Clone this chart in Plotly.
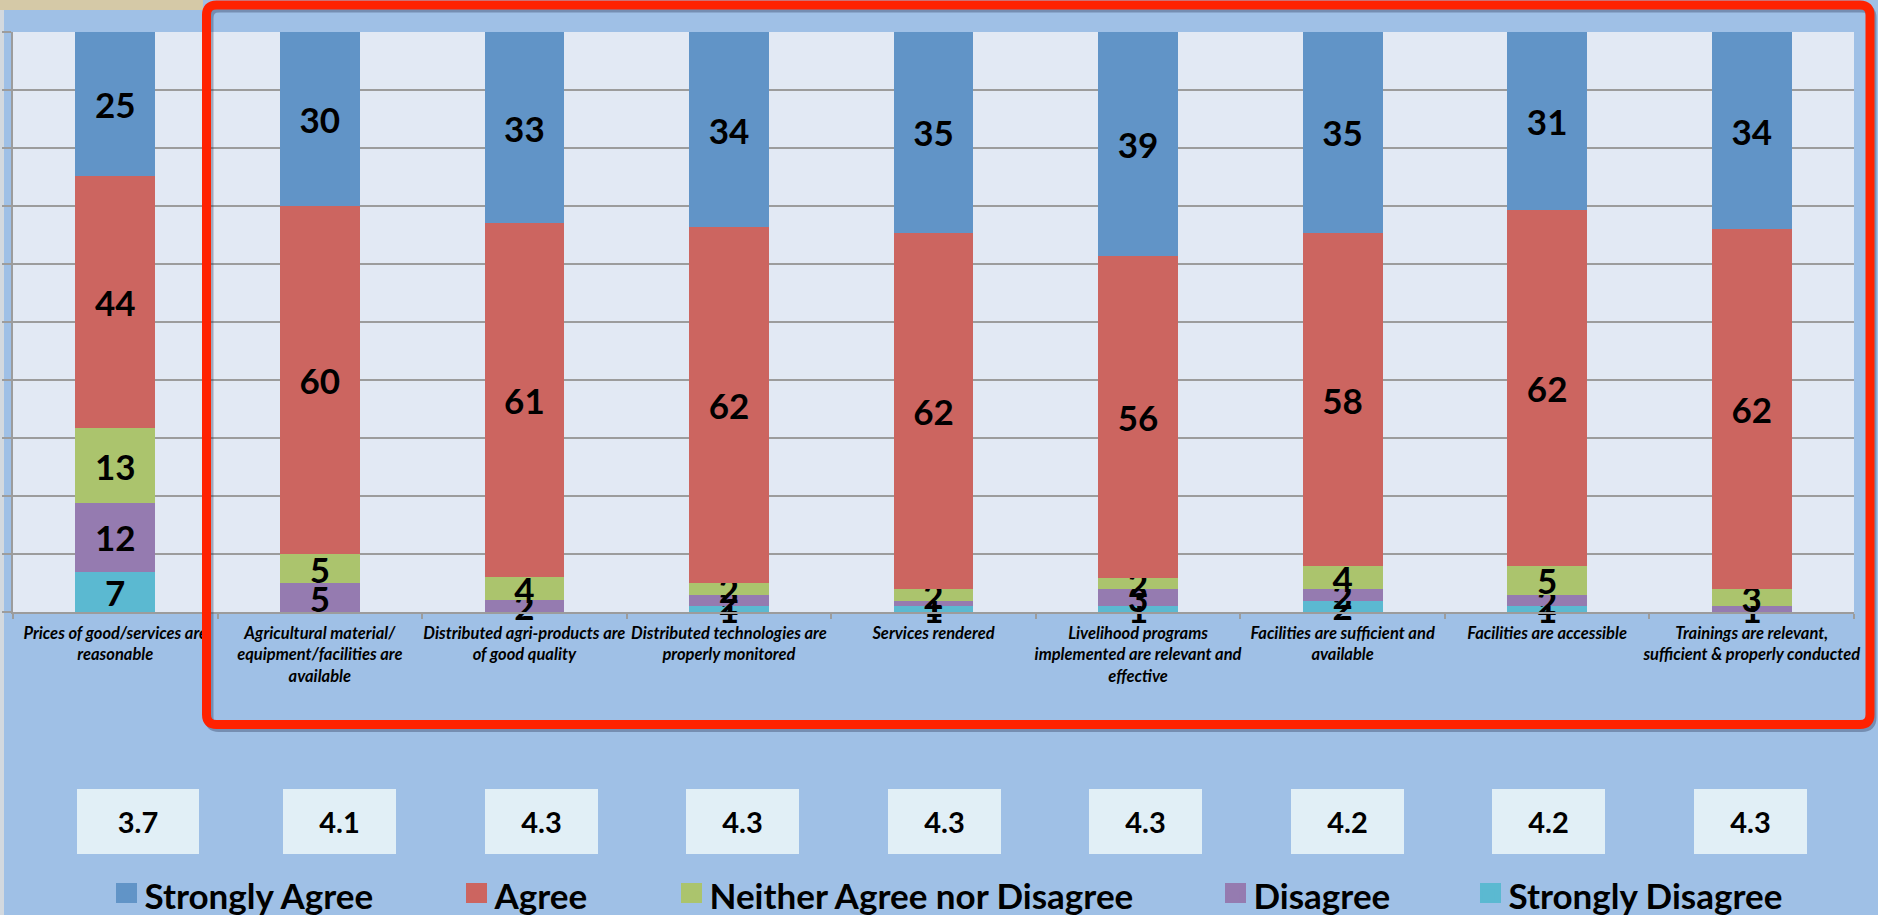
import plotly.graph_objects as go

# ---------------- data ----------------
categories = [
    "Prices of good/services are<br>reasonable",
    "Agricultural material/<br>equipment/facilities are<br>available",
    "Distributed agri-products are<br>of good quality",
    "Distributed technologies are<br>properly monitored",
    "Services rendered",
    "Livelihood programs<br>implemented are relevant and<br>effective",
    "Facilities are sufficient and<br>available",
    "Facilities are accessible",
    "Trainings are relevant,<br>sufficient & properly conducted",
]
strongly_agree = [25, 30, 33, 34, 35, 39, 35, 31, 34]
agree = [44, 60, 61, 62, 62, 56, 58, 62, 62]
neither = [13, 5, 4, 2, 2, 2, 4, 5, 3]
disagree = [12, 5, 2, 2, 1, 3, 2, 2, 1]
strongly_disagree = [7, 0, 0, 1, 1, 1, 2, 1, 0]
mean_scores = [3.7, 4.1, 4.3, 4.3, 4.3, 4.3, 4.2, 4.2, 4.3]

series_names = ["Strongly Agree", "Agree", "Neither Agree nor Disagree",
                "Disagree", "Strongly Disagree"]
series_values = [strongly_agree, agree, neither, disagree, strongly_disagree]
series_colors = ["#6194c7", "#cc6560", "#abc46d", "#957bb0", "#5bb9d1"]

# ---------------- geometry helpers ----------------
W, H = 1878, 915
PL, PR, PT, PB = 13, 1854, 32, 612
PW, PH = PR - PL, PB - PT


def X(px):
    return (px - PL) / PW


def Y(py):
    return (PB - py) / PH


FONT = "Lato"

fig = go.Figure()

# stack bottom -> top : SD, D, N, A, SA
legend_ids = ["legend", "legend2", "legend3", "legend4", "legend5"]
for i in reversed(range(len(series_names))):
    vals = series_values[i]
    fig.add_trace(go.Bar(
        x=categories,
        y=vals,
        name=series_names[i],
        marker=dict(color=series_colors[i], line=dict(width=0)),
        text=[str(v) if v else "" for v in vals],
        textposition="inside",
        insidetextanchor="middle",
        constraintext="none",
        textangle=0,
        textfont=dict(family=FONT, size=35, color="black", weight="bold"),
        cliponaxis=False,
        legend=legend_ids[i],
        hoverinfo="skip",
    ))

# ---------------- layout ----------------
legend_square_centers = [126.5, 476.5, 691.5, 1235.5, 1490.5]
legend_cy = 896
leg_common = dict(
    orientation="h", xanchor="left", yanchor="middle",
    bgcolor="rgba(0,0,0,0)", borderwidth=0,
    font=dict(family=FONT, size=35, color="black", weight="bold"),
)
layout_legends = {}
for lid, cx in zip(legend_ids, legend_square_centers):
    layout_legends[lid] = dict(leg_common, x=X(cx - 22), y=Y(legend_cy))

fig.update_layout(
    width=W, height=H, autosize=False,
    margin=dict(l=PL, r=W - PR, t=PT, b=H - PB, pad=0, autoexpand=False),
    paper_bgcolor="#9fc0e6",
    plot_bgcolor="#e2e9f4",
    barmode="stack",
    barnorm="percent",
    bargap=0.61,
    showlegend=True,
    font=dict(family=FONT, color="black"),
    xaxis=dict(
        type="category",
        showgrid=False,
        showline=True, linecolor="#9c9c9c", linewidth=2,
        ticks="outside", tickson="boundaries", ticklen=5, tickcolor="#9c9c9c",
        tickwidth=2,
        tickfont=dict(family=FONT, size=16.5, color="black", weight="bold",
                      style="italic"),
        ticklabelstandoff=5,
        tickangle=0,
        automargin=False,
        fixedrange=True,
    ),
    yaxis=dict(
        range=[0, 100], dtick=10,
        showgrid=True, gridcolor="#9c9c9c", gridwidth=2,
        zeroline=False,
        showline=True, linecolor="#9c9c9c", linewidth=2,
        ticks="outside", ticklen=9, tickcolor="#9c9c9c", tickwidth=2,
        showticklabels=False,
        automargin=False,
        fixedrange=True,
    ),
    **layout_legends,
)

shapes = []
# left textured edge and top tan band (slide background peeking through)
shapes.append(dict(type="rect", xref="paper", yref="paper",
                   x0=X(0), x1=X(4), y0=Y(H), y1=Y(0),
                   fillcolor="#d3d9df", line=dict(width=0), layer="below"))
shapes.append(dict(type="rect", xref="paper", yref="paper",
                   x0=X(0), x1=X(203), y0=Y(10), y1=Y(0),
                   fillcolor="#d5c9a7", line=dict(width=0), layer="below"))


def rounded_path(l, t, r, b, rad):
    return (f"M {X(l + rad)},{Y(t)} L {X(r - rad)},{Y(t)} "
            f"Q {X(r)},{Y(t)} {X(r)},{Y(t + rad)} L {X(r)},{Y(b - rad)} "
            f"Q {X(r)},{Y(b)} {X(r - rad)},{Y(b)} L {X(l + rad)},{Y(b)} "
            f"Q {X(l)},{Y(b)} {X(l)},{Y(b - rad)} L {X(l)},{Y(t + rad)} "
            f"Q {X(l)},{Y(t)} {X(l + rad)},{Y(t)} Z")


# shadow of the red highlight frame
shapes.append(dict(type="path", xref="paper", yref="paper",
                   path=rounded_path(209, 8, 1872, 727.5, 10),
                   line=dict(color="rgba(40,50,80,0.35)", width=9),
                   layer="above"))
# red highlight frame
shapes.append(dict(type="path", xref="paper", yref="paper",
                   path=rounded_path(206.5, 5, 1870, 724.5, 10),
                   line=dict(color="#ff2200", width=9),
                   layer="above"))
# enlarged legend swatches (drawn beneath the legend's own symbols)
for cx, col in zip(legend_square_centers, series_colors):
    shapes.append(dict(type="rect", xref="paper", yref="paper",
                       x0=X(cx - 10.5), x1=X(cx + 10.5),
                       y0=Y(903), y1=Y(883),
                       fillcolor=col, line=dict(width=0), layer="above"))
fig.update_layout(shapes=shapes)

# mean score boxes
annotations = []
for i, s in enumerate(mean_scores):
    cx = 138 + 201.5 * i
    annotations.append(dict(
        xref="paper", yref="paper", x=X(cx), y=Y(821.5),
        xanchor="center", yanchor="middle",
        text=f"{s:.1f}", showarrow=False,
        width=122 if i == 0 else 113, height=65,
        bgcolor="#e1eff6", borderpad=0, borderwidth=0,
        font=dict(family=FONT, size=29, color="black", weight="bold"),
        align="center", valign="middle",
    ))
fig.update_layout(annotations=annotations)

fig.write_html(
    "out.html",
    config={"displayModeBar": False},
    post_script="document.body.style.margin='0';"
                "document.body.style.overflow='hidden';",
)
